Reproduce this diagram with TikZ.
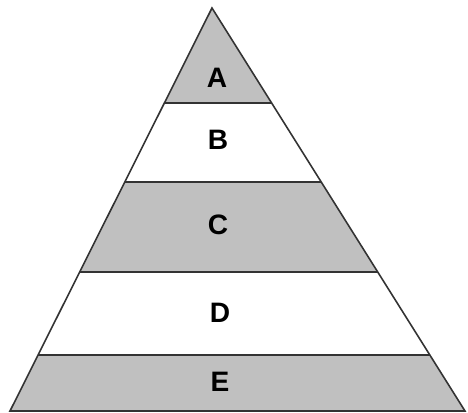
\documentclass[tikz,border=0pt]{standalone}
\usepackage{fontspec}
\setsansfont{Liberation Sans}
\usetikzlibrary{calc}
\definecolor{bandgray}{RGB}{192,192,192}
\begin{document}
\begin{tikzpicture}[x=0.02cm, y=-0.02cm, every node/.style={font=\sffamily\bfseries\fontsize{16}{16}\selectfont, inner sep=0pt}]
\useasboundingbox (0,0) rectangle (468,413);
\coordinate (top) at (212,8);
\coordinate (bl) at (10,411);
\coordinate (br) at (465,411);

\coordinate (l1) at ($(top)!0.236!(bl)$);
\coordinate (r1) at ($(top)!0.236!(br)$);
\coordinate (l2) at ($(top)!0.432!(bl)$);
\coordinate (r2) at ($(top)!0.432!(br)$);
\coordinate (l3) at ($(top)!0.655!(bl)$);
\coordinate (r3) at ($(top)!0.655!(br)$);
\coordinate (l4) at ($(top)!0.861!(bl)$);
\coordinate (r4) at ($(top)!0.861!(br)$);

% shaded bands
\fill[bandgray] (top)--(r1)--(l1)--cycle;
\fill[bandgray] (l2)--(r2)--(r3)--(l3)--cycle;
\fill[bandgray] (l4)--(r4)--(br)--(bl)--cycle;

% outline and dividers
\draw[black!80, line width=0.9pt, line join=miter] (top)--(br)--(bl)--cycle;
\draw[black!80, line width=0.9pt] (l1)--(r1);
\draw[black!80, line width=0.9pt] (l2)--(r2);
\draw[black!80, line width=0.9pt] (l3)--(r3);
\draw[black!80, line width=0.9pt] (l4)--(r4);

\node (a) at (217,78) {A};
\node (b) at (218,140) {B};
\node (c) at (218,225) {C};
\node (d) at (220,313) {D};
\node (e) at (220,382) {E};
\end{tikzpicture}
\end{document}
